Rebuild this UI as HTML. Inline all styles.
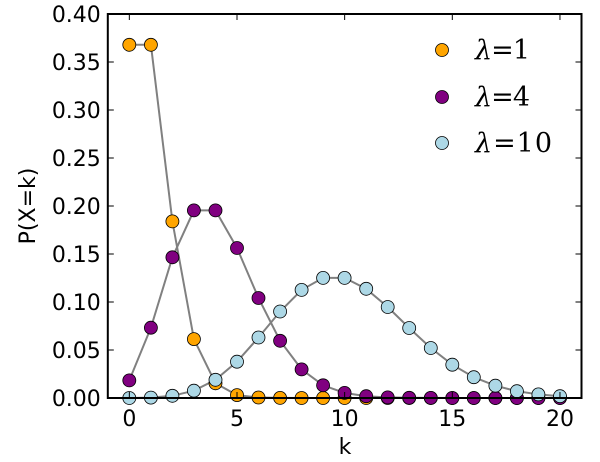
<!DOCTYPE html><html><head><style>body{margin:0;background:#fff}svg{display:block}</style></head><body>
<svg id="s" width="600" height="462" xmlns="http://www.w3.org/2000/svg" font-family="DejaVu Sans, Liberation Sans, sans-serif"></svg>
<script>
const s=document.getElementById('s');
const L=107.8,R=581.5,T=14,B=398;
const X=k=>L+(k+1)*(R-L)/22, Y=p=>B-p*(B-T)/0.4;
let h='';
function pois(l,k){let f=1;for(let i=2;i<=k;i++)f*=i;return Math.exp(-l)*Math.pow(l,k)/f;}
const ser=[[1,'#ffa500'],[4,'#800080'],[10,'#add8e6']];
for(const [l,c] of ser){let pts=[];for(let k=0;k<=20;k++)pts.push(X(k).toFixed(1)+','+Y(pois(l,k)).toFixed(1));
h+=`<polyline points="${pts.join(' ')}" fill="none" stroke="#808080" stroke-width="2"/>`;}
for(const [l,c] of ser){for(let k=0;k<=20;k++)h+=`<circle cx="${X(k).toFixed(1)}" cy="${Y(pois(l,k)).toFixed(1)}" r="6.5" fill="${c}" stroke="#000" stroke-width="0.8"/>`;}
h+=`<rect x="${L}" y="${T}" width="${R-L}" height="${B-T}" fill="none" stroke="#000" stroke-width="2"/>`;
for(let i=0;i<=8;i++){const p=i*0.05,y=Y(p);h+=`<line x1="${L}" x2="${L+6}" y1="${y}" y2="${y}" stroke="#000"/><line x1="${R}" x2="${R-6}" y1="${y}" y2="${y}" stroke="#000"/><text x="${L-7}" y="${y+8}" font-size="22" text-anchor="end">${p.toFixed(2)}</text>`;}
for(let k=0;k<=20;k+=5){const x=X(k);h+=`<line x1="${x}" x2="${x}" y1="${B}" y2="${B-6}" stroke="#000"/><line x1="${x}" x2="${x}" y1="${T}" y2="${T+6}" stroke="#000"/><text x="${x}" y="${B+28}" font-size="22" text-anchor="middle">${k}</text>`;}
h+=`<text x="345" y="454" font-size="22" text-anchor="middle">k</text>`;
h+=`<text transform="translate(35,206) rotate(-90)" font-size="22" text-anchor="middle">P(X=k)</text>`;
const ly=[50,97,143],lt=['1','4','10'];
ser.forEach(([l,c],i)=>{h+=`<circle cx="442" cy="${ly[i]}" r="6.5" fill="${c}" stroke="#000" stroke-width="0.8"/><text x="475" y="${ly[i]+9}" font-size="27" font-family="DejaVu Serif, Liberation Serif, serif" textLength="${i==2?77:55}"><tspan font-style="italic">λ</tspan>=${lt[i]}</text>`;});
s.innerHTML=h;
</script>
</body></html>
